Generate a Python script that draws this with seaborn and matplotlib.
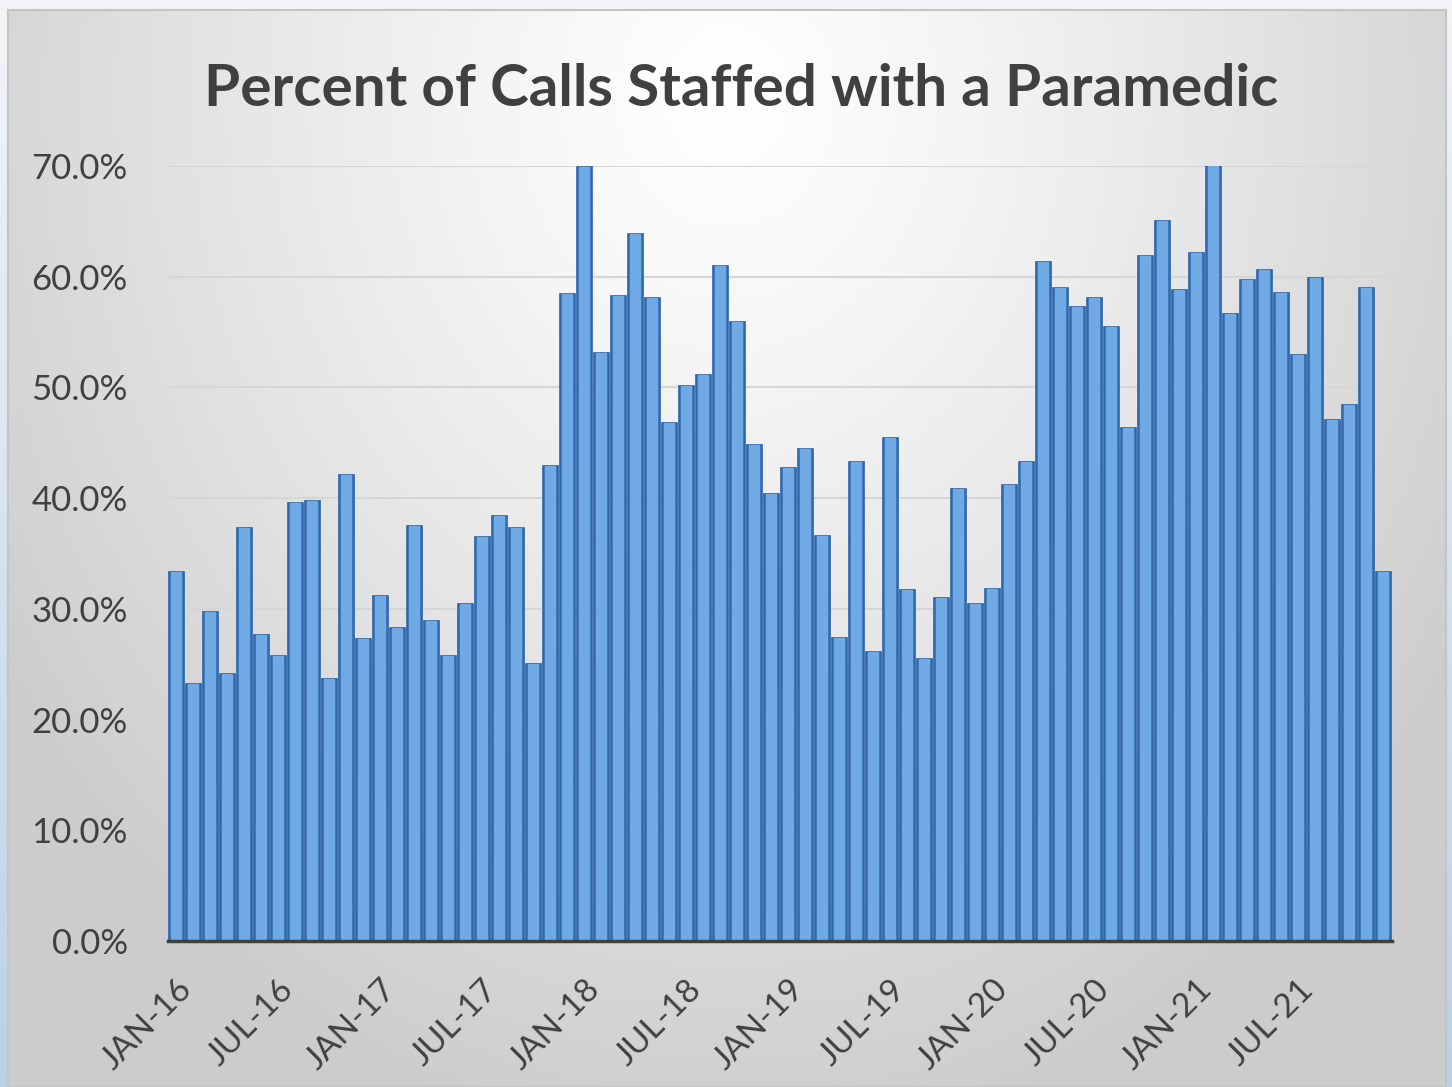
import numpy as np
import matplotlib
matplotlib.use("Agg")
import matplotlib.pyplot as plt
import seaborn as sns

# data (monthly, Jan 2016 - Dec 2021)
years = ["16", "17", "18", "19", "20", "21"]
month_names = ["JAN", "FEB", "MAR", "APR", "MAY", "JUN",
               "JUL", "AUG", "SEP", "OCT", "NOV", "DEC"]
months = [f"{m}-{y}" for y in years for m in month_names]

pct_2016 = [33.3, 23.2, 29.7, 24.1, 37.3, 27.6, 25.7, 39.6, 39.7, 23.7, 42.1, 27.3]
pct_2017 = [31.2, 28.3, 37.5, 28.9, 25.7, 30.4, 36.5, 38.4, 37.3, 25.0, 42.9, 58.4]
pct_2018 = [69.9, 53.1, 58.3, 63.9, 58.1, 46.8, 50.1, 51.1, 61.0, 55.9, 44.8, 40.4]
pct_2019 = [42.7, 44.4, 36.6, 27.4, 43.3, 26.1, 45.4, 31.7, 25.5, 31.0, 40.8, 30.4]
pct_2020 = [31.8, 41.2, 43.3, 61.3, 59.0, 57.3, 58.1, 55.5, 46.3, 61.9, 65.0, 58.8]
pct_2021 = [62.1, 70.0, 56.6, 59.7, 60.6, 58.5, 52.9, 59.9, 47.1, 48.4, 59.0, 33.3]
pct = pct_2016 + pct_2017 + pct_2018 + pct_2019 + pct_2020 + pct_2021

tick_labels = [m for m in months if m.startswith(("JAN", "JUL"))]
y_ticks = [0, 10, 20, 30, 40, 50, 60, 70]

sns.set_style("white")
plt.rcParams["font.family"] = ["Lato", "DejaVu Sans"]

W, H = 1452, 1087
fig = plt.figure(figsize=(W / 100, H / 100), dpi=100)

# slide background (light blue)
bg = fig.add_axes([0, 0, 1, 1])
bg.axis("off")
vert = np.linspace(0, 1, 256)[:, None]
bg.imshow(np.dstack([0.95 - 0.22 * vert, 0.96 - 0.14 * vert, 0.97 - 0.07 * vert]) * np.ones((1, 4, 1)),
          aspect="auto", extent=[0, 1, 0, 1], origin="upper")

# chart panel with radial grey gradient, brightest near the top centre
panel = fig.add_axes([8 / W, 0, (1446 - 8) / W, (H - 10) / H])
gx, gy = np.meshgrid(np.linspace(-1, 1, 300), np.linspace(0, 1, 300))
r = np.sqrt((gx * 0.85) ** 2 + ((gy - 0.08) * 1.05) ** 2)
shade = np.clip(1.0 - 0.19 * r ** 1.2, 0.80, 1)
panel.imshow(np.dstack([shade, shade, shade]), aspect="auto", extent=[0, 1, 0, 1], origin="upper")
panel.set_xticks([])
panel.set_yticks([])
for s in panel.spines.values():
    s.set_color("#c4c4c4")
    s.set_linewidth(1.5)

ax = fig.add_axes([168 / W, 1 - 941 / H, (1392 - 168) / W, (941 - 166) / H])
ax.patch.set_alpha(0)

sns.barplot(x=months, y=pct, ax=ax, color="#3E7AC0", width=0.86,
            edgecolor="#2C64A6", linewidth=1.2, saturation=1)
sns.barplot(x=months, y=pct, ax=ax, color="#70AAE4", width=0.62,
            linewidth=0, saturation=1)

ax.set_xlim(-0.5, len(months) - 0.5)
ax.set_ylim(0, 70)

ax.set_yticks(y_ticks)
ax.set_yticklabels([f"{v:.1f}%" for v in y_ticks], fontsize=25, color="#404040")
ax.tick_params(axis="y", length=0, pad=29)
ax.yaxis.grid(True, color="#d6d6d6", linewidth=1.5)
ax.set_axisbelow(True)

# tick marks between categories, labels on JAN / JUL bars
ax.set_xticks(np.arange(-0.5, len(months), 6))
ax.set_xticklabels([])
ax.tick_params(axis="x", which="major", length=12, width=2.5, color="#404040", direction="out")
ax.set_xticks([months.index(t) for t in tick_labels], minor=True)
ax.set_xticklabels(tick_labels, minor=True, fontsize=24, color="#404040",
                   rotation=45, ha="right", rotation_mode="anchor")
ax.tick_params(axis="x", which="minor", length=0, pad=24)

for side in ["top", "right", "left"]:
    ax.spines[side].set_visible(False)
ax.spines["bottom"].set_color("#404040")
ax.spines["bottom"].set_linewidth(2.5)
ax.set_xlabel("")
ax.set_ylabel("")

fig.text(741 / W, 1 - 90 / H, "Percent of Calls Staffed with a Paramedic",
         ha="center", va="center", fontsize=42, fontweight="bold", color="#404040")

fig.savefig("out.png", dpi=100)
